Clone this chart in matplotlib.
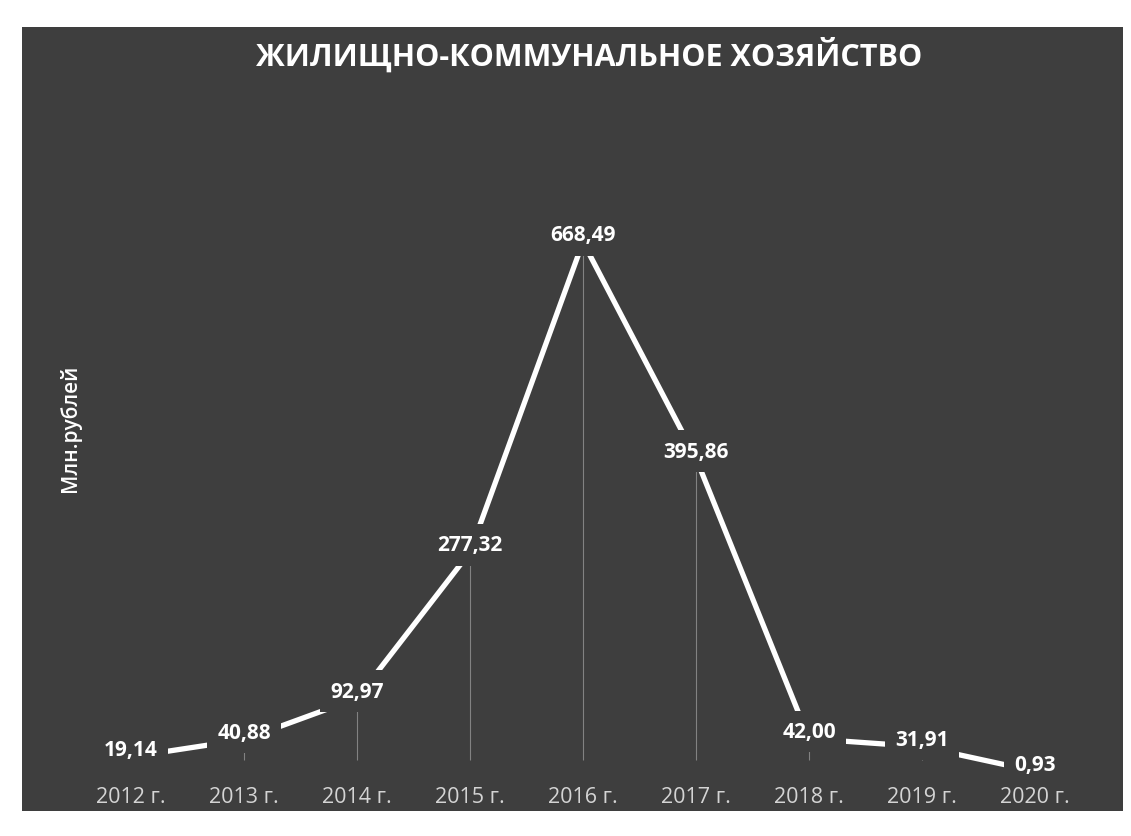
import matplotlib
matplotlib.use("Agg")
import matplotlib.pyplot as plt
import matplotlib.transforms as mtransforms

categories = ["2012 г.", "2013 г.", "2014 г.", "2015 г.", "2016 г.", "2017 г.", "2018 г.", "2019 г.", "2020 г."]
values = [19.14, 40.88, 92.97, 277.32, 668.49, 395.86, 42.00, 31.91, 0.93]
labels = ["19,14", "40,88", "92,97", "277,32", "668,49", "395,86", "42,00", "31,91", "0,93"]
title = "ЖИЛИЩНО-КОММУНАЛЬНОЕ ХОЗЯЙСТВО"
ylabel = "Млн.рублей"

BG = "#3e3e3e"
plt.rcParams['font.family'] = ['Open Sans', 'DejaVu Sans']

W, H = 1131, 837
fig = plt.figure(figsize=(W / 100, H / 100), dpi=100)
fig.patch.set_facecolor("white")

x0, x1, ytop, ybot = 22, 1123, 28, 812
ax = fig.add_axes([x0 / W, 1 - ybot / H, (x1 - x0) / W, (ybot - ytop) / H])
ax.set_facecolor(BG)
for s in ax.spines.values():
    s.set_visible(False)
ax.set_xticks([])
ax.set_yticks([])

xs = list(range(len(categories)))
step = 113
first = 131
y0px = 773
scale = 530 / 668.49
ax.set_xlim(-(first - x0) / step, 8 + (x1 - (first + 8 * step)) / step)
ax.set_ylim(-(ybot - y0px) / scale, (y0px - ytop) / scale)

# drop lines
ax.vlines(xs, 15, values, colors="#a0a0a0", linewidth=0.8, alpha=0.7, zorder=1)
ax.plot(xs, values, color="white", linewidth=3.8, solid_capstyle="butt", zorder=2)

for x, v, lab in zip(xs, values, labels):
    ax.text(x, v + 9, lab, ha="center", va="center", color="white", fontsize=15,
            fontweight="bold", zorder=3,
            bbox=dict(boxstyle="square,pad=0.5", facecolor=BG, edgecolor="none"))

trans = mtransforms.blended_transform_factory(ax.transData, ax.transAxes)
for x, c in zip(xs, categories):
    ax.text(x, (ybot - 798) / (ybot - ytop), c, transform=trans, ha="center", va="center",
            color="#d4d4d4", fontsize=15.5)

ax.text((589 - x0) / (x1 - x0), (ybot - 55) / (ybot - ytop), title, transform=ax.transAxes,
        ha="center", va="center", color="white", fontsize=22, fontweight="bold")
ax.text((70 - x0) / (x1 - x0), (ybot - 428) / (ybot - ytop), ylabel, transform=ax.transAxes,
        ha="center", va="center", rotation=90, color="white", fontsize=15, fontweight="semibold")

fig.savefig("out.png", dpi=100, facecolor=fig.get_facecolor())
